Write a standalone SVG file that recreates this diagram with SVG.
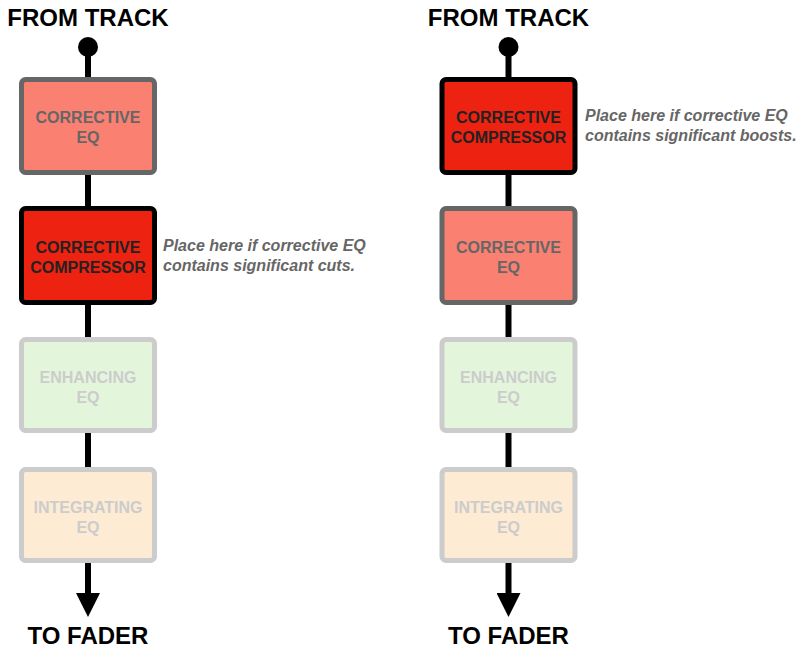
<svg xmlns="http://www.w3.org/2000/svg" width="801" height="653" viewBox="0 0 801 653">
<style>
.t{font-family:"Liberation Sans",Arial,sans-serif;font-weight:bold;text-anchor:middle}
.title{font-size:24px;fill:#000}
.bx{font-size:16px}
.note{font-family:"Liberation Sans",Arial,sans-serif;font-weight:bold;font-style:italic;font-size:16px;fill:#666}
.ceq rect{fill:#FA8072;stroke:#666;stroke-width:5}
.ceq text{fill:#666}
.cmp rect{fill:#EE2211;stroke:#000;stroke-width:5}
.cmp text{fill:#222}
.enh rect{fill:#E3F6DC;stroke:#CCC;stroke-width:5}
.enh text{fill:#CCC}
.int rect{fill:#FDEBD3;stroke:#CCC;stroke-width:5}
.int text{fill:#CCC}
.ln{stroke:#000;stroke-width:6;fill:none}
</style>
<defs>
<marker id="ah" markerUnits="userSpaceOnUse" markerWidth="24" markerHeight="24" refX="0" refY="12" orient="auto" viewBox="0 0 24 24">
<path d="M0,0 L24,12 L0,24 Z" fill="#000"/>
</marker>
</defs>
<g id="connectors">
<line class="ln" x1="88" y1="47" x2="88" y2="80"/>
<line class="ln" x1="88" y1="172" x2="88" y2="209"/>
<line class="ln" x1="88" y1="303" x2="88" y2="339"/>
<line class="ln" x1="88" y1="431" x2="88" y2="469"/>
<line class="ln" x1="88" y1="561" x2="88" y2="593" marker-end="url(#ah)"/>
<circle cx="88" cy="47" r="10" fill="#000"/>
<line class="ln" x1="508.5" y1="47" x2="508.5" y2="80"/>
<line class="ln" x1="508.5" y1="172" x2="508.5" y2="209"/>
<line class="ln" x1="508.5" y1="303" x2="508.5" y2="339"/>
<line class="ln" x1="508.5" y1="431" x2="508.5" y2="469"/>
<line class="ln" x1="508.5" y1="561" x2="508.5" y2="593" marker-end="url(#ah)"/>
<circle cx="508.5" cy="47" r="10" fill="#000"/>
</g>
<g id="left-from"><text class="t title" x="88" y="26">FROM TRACK</text></g>
<g id="left-to"><text class="t title" x="88" y="644">TO FADER</text></g>
<g id="right-from"><text class="t title" x="508.5" y="26">FROM TRACK</text></g>
<g id="right-to"><text class="t title" x="508.5" y="644">TO FADER</text></g>

<g id="left-ceq" class="ceq">
<rect x="21.5" y="79.5" width="133" height="93" rx="4"/>
<text class="t bx" x="88" y="123">CORRECTIVE</text>
<text class="t bx" x="88" y="143">EQ</text>
</g>
<g id="left-cmp" class="cmp">
<rect x="21.5" y="208.5" width="133" height="94" rx="4"/>
<text class="t bx" x="88" y="253">CORRECTIVE</text>
<text class="t bx" x="88" y="273">COMPRESSOR</text>
</g>
<g id="left-note">
<text class="note" x="163" y="251">Place here if corrective EQ</text>
<text class="note" x="163" y="271">contains significant cuts.</text>
</g>
<g id="left-enh" class="enh">
<rect x="21.5" y="339.5" width="133" height="91" rx="4"/>
<text class="t bx" x="88" y="383">ENHANCING</text>
<text class="t bx" x="88" y="403">EQ</text>
</g>
<g id="left-int" class="int">
<rect x="21.5" y="469.5" width="133" height="91" rx="4"/>
<text class="t bx" x="88" y="513">INTEGRATING</text>
<text class="t bx" x="88" y="533">EQ</text>
</g>

<g id="right-cmp" class="cmp">
<rect x="442" y="79.5" width="133" height="93" rx="4"/>
<text class="t bx" x="508.5" y="123">CORRECTIVE</text>
<text class="t bx" x="508.5" y="143">COMPRESSOR</text>
</g>
<g id="right-note">
<text class="note" x="585" y="121">Place here if corrective EQ</text>
<text class="note" x="585" y="141">contains significant boosts.</text>
</g>
<g id="right-ceq" class="ceq">
<rect x="442" y="208.5" width="133" height="94" rx="4"/>
<text class="t bx" x="508.5" y="253">CORRECTIVE</text>
<text class="t bx" x="508.5" y="273">EQ</text>
</g>
<g id="right-enh" class="enh">
<rect x="442" y="339.5" width="133" height="91" rx="4"/>
<text class="t bx" x="508.5" y="383">ENHANCING</text>
<text class="t bx" x="508.5" y="403">EQ</text>
</g>
<g id="right-int" class="int">
<rect x="442" y="469.5" width="133" height="91" rx="4"/>
<text class="t bx" x="508.5" y="513">INTEGRATING</text>
<text class="t bx" x="508.5" y="533">EQ</text>
</g>
</svg>
